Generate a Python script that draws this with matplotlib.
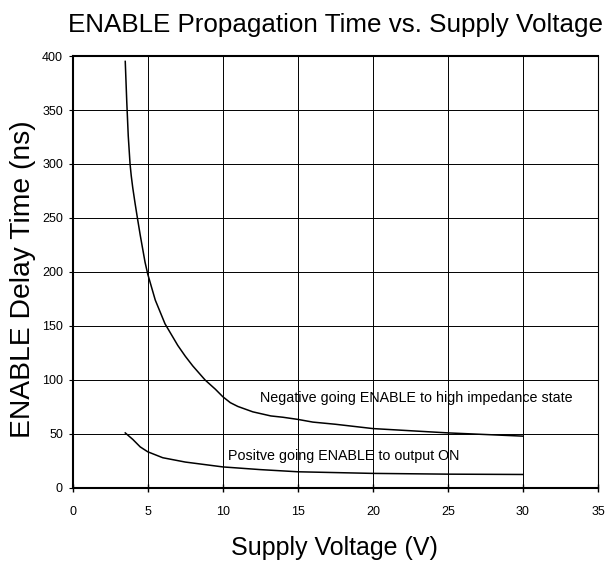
import matplotlib
matplotlib.use("Agg")
import matplotlib.pyplot as plt

plt.rcParams["font.family"] = ["Liberation Sans", "DejaVu Sans"]

# negative going ENABLE to high impedance state
neg_v = [3.5, 3.6, 3.7, 3.82, 3.9, 4.0, 4.15, 4.31, 4.5, 4.82, 5, 5.5, 6.15, 7, 7.5, 8,
         8.82, 9.5, 10, 10.5, 11, 12, 13.2, 14, 15, 16, 17.5, 20, 25, 30]
neg_t = [395, 358, 326, 300, 289, 278, 264, 250, 234, 209, 198, 174, 152, 132, 122, 113,
         100, 91.5, 84.5, 79, 75.5, 70.5, 66.7, 65.5, 63.5, 61, 59, 55, 51, 48]

# positive going ENABLE to output ON
pos_v = [3.5, 4, 4.5, 5, 6, 7.5, 10, 12.5, 15, 20, 25, 30]
pos_t = [51, 45, 38, 33.5, 28, 24, 19.5, 17, 15, 13.5, 12.8, 12.5]

x_ticks = [0, 5, 10, 15, 20, 25, 30, 35]
y_ticks = [0, 50, 100, 150, 200, 250, 300, 350, 400]

fig = plt.figure(figsize=(6.06, 5.64), dpi=100)
ax = fig.add_axes([0.12, 0.1348, 0.8668, 0.7659])

ax.plot(neg_v, neg_t, color="black", lw=1.1)
ax.plot(pos_v, pos_t, color="black", lw=1.1)

ax.text(12.5, 79.6, "Negative going ENABLE to high impedance state", fontsize=10.3)
ax.text(10.35, 26, "Positve going ENABLE to output ON", fontsize=10.3)

ax.set_xlim(0, 35)
ax.set_ylim(0, 400)
ax.set_xticks(x_ticks)
ax.set_yticks(y_ticks)
ax.grid(True, color="black", lw=0.7)
ax.set_axisbelow(True)

ax.tick_params(axis="x", direction="inout", length=6, width=1.0, pad=10, labelsize=9)
ax.tick_params(axis="y", direction="out", length=3, width=0.8, pad=4, labelsize=9)

for side in ["left", "bottom", "top"]:
    ax.spines[side].set_linewidth(1.5)
ax.spines["right"].set_linewidth(0.8)

fig.text(0.5535, 1 - 32 / 564, "ENABLE Propagation Time vs. Supply Voltage",
         fontsize=18.7, ha="center", va="baseline")
fig.text(23 / 606, 1 - 279 / 564, "ENABLE Delay Time (ns)", fontsize=20.3,
         rotation=90, ha="center", va="center")
fig.text(334 / 606, 1 - 555 / 564, "Supply Voltage (V)", fontsize=18,
         ha="center", va="baseline")

fig.savefig("out.png", dpi=100)
